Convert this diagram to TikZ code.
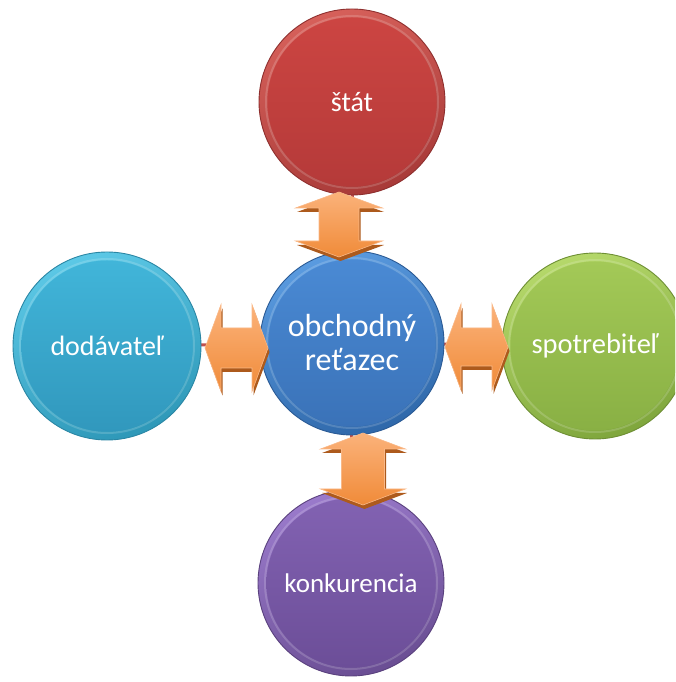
\documentclass[tikz,border=0pt]{standalone}
\usepackage{fontspec}
\setmainfont{Carlito}

% sphere colours: light rim, dark rim, face top, face bottom, edge
\definecolor{rdL}{HTML}{D6605A}\definecolor{rdD}{HTML}{A83A38}
\definecolor{rdF}{HTML}{CC4542}\definecolor{rdG}{HTML}{B53A39}\definecolor{rdE}{HTML}{8E2F2E}
\definecolor{blL}{HTML}{5A9BE0}\definecolor{blD}{HTML}{2F68AA}
\definecolor{blF}{HTML}{4A8AD4}\definecolor{blG}{HTML}{3A72B8}\definecolor{blE}{HTML}{2A5A95}
\definecolor{cyL}{HTML}{5CC8E6}\definecolor{cyD}{HTML}{2E98B8}
\definecolor{cyF}{HTML}{41B5D9}\definecolor{cyG}{HTML}{3198BD}\definecolor{cyE}{HTML}{2A86A4}
\definecolor{grL}{HTML}{B5D86A}\definecolor{grD}{HTML}{7FA63C}
\definecolor{grF}{HTML}{A3C957}\definecolor{grG}{HTML}{89B044}\definecolor{grE}{HTML}{6E8F34}
\definecolor{puL}{HTML}{9A7ACB}\definecolor{puD}{HTML}{6A4E93}
\definecolor{puF}{HTML}{8262B2}\definecolor{puG}{HTML}{6C4E98}\definecolor{puE}{HTML}{5A417E}
% block arrow colours
\definecolor{arDark}{HTML}{AD5A1C}
\definecolor{arTop}{HTML}{FBB27A}
\definecolor{arMid}{HTML}{F79A4A}
\definecolor{arBot}{HTML}{F08B39}
\definecolor{arLine}{HTML}{F9B887}
\definecolor{linkRed}{HTML}{C0504D}

% #1 name, #2 position, #3 radius (pt), #4 colour prefix, #5 font, #6 label
\newcommand\ballnode[6]{%
  \node[circle, minimum size=2*#3pt, inner sep=0pt] (#1) at #2 {};
  \shade[top color=#4L, bottom color=#4D, shading angle=20] (#1.center) circle (#3pt);
  \draw[white, opacity=.16, line width=2pt] (#1.center) circle (#3pt-7pt);
  \shade[top color=#4F, bottom color=#4G] (#1.center) circle (#3pt-8.5pt);
  \draw[#4E, line width=.9pt] (#1.center) circle (#3pt);
  \node[labeltext, font=#5] at (#1.center) {#6};
}

% #1 centre, #2 rotation, #3 half length, #4 head half width, #5 shaft half width
\newcommand\dblarrow[5]{%
  \begin{scope}[shift={#1}]
    \begin{scope}[shift={(1.5,-4)}, rotate=#2]
      \fill[arDark] (-#3,0) -- (-#3+16,#4) -- (-#3+16,#5) -- (#3-16,#5) -- (#3-16,#4)
        -- (#3,0) -- (#3-16,-#4) -- (#3-16,-#5) -- (-#3+16,-#5) -- (-#3+16,-#4) -- cycle;
    \end{scope}
    \begin{scope}[rotate=#2]
      \shade[top color=arTop, middle color=arMid, bottom color=arBot, draw=arLine, line width=.6pt]
        (-#3,0) -- (-#3+16,#4) -- (-#3+16,#5) -- (#3-16,#5) -- (#3-16,#4)
        -- (#3,0) -- (#3-16,-#4) -- (#3-16,-#5) -- (-#3+16,-#5) -- (-#3+16,-#4) -- cycle;
    \end{scope}
  \end{scope}
}

\tikzset{
  labeltext/.style={text=white, align=center, inner sep=0pt},
  link/.style={draw=linkRed, line width=3pt}
}

\begin{document}
\begin{tikzpicture}[x=1pt,y=1pt]
\useasboundingbox (0,0) rectangle (675,682);
\clip (0,0) rectangle (675,682);

% anchor points for the hidden links
\coordinate (pc) at (352,339);
\coordinate (pt) at (352,580);
\coordinate (pl) at (107,336);
\coordinate (pr) at (595,336);
\coordinate (pb) at (351,99);

% links running behind the spheres
\draw[link] (pc) -- (pt);
\draw[link] (pc) -- (pl);
\draw[link] (pc) -- (pr);
\draw[link] (pc) -- (pb);

% spheres
\ballnode{stat}{(pt)}{93}{rd}{\fontsize{28}{32}\selectfont}{štát}
\ballnode{dod}{(pl)}{94}{cy}{\fontsize{28}{32}\selectfont}{dodávateľ}
\ballnode{spo}{(pr)}{93}{gr}{\fontsize{28.5}{32}\selectfont}{spotrebiteľ}
\ballnode{kon}{(pb)}{93}{pu}{\fontsize{27}{31}\selectfont}{konkurencia}
\ballnode{obch}{(pc)}{92}{bl}{\fontsize{32}{34}\selectfont}{obchodný\\reťazec}

% double block arrows between the spheres
\dblarrow{(339,457.5)}{90}{32.5}{43.5}{20}
\dblarrow{(363,213)}{90}{36}{42.5}{21.5}
\dblarrow{(236.5,334)}{0}{31.5}{43.5}{20}
\dblarrow{(476.5,335)}{0}{31.5}{43}{19}
\end{tikzpicture}
\end{document}
